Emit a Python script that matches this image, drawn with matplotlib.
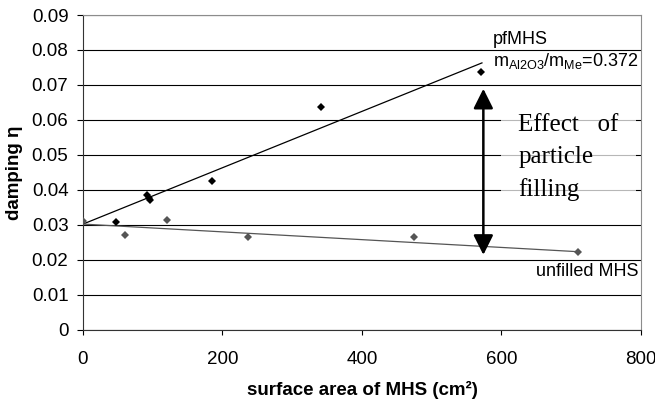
import matplotlib
matplotlib.use("Agg")
import matplotlib.pyplot as plt
from matplotlib.ticker import FuncFormatter, MultipleLocator

plt.rcParams["font.family"] = ["Liberation Sans", "DejaVu Sans"]
plt.rcParams["mathtext.fontset"] = "custom"
plt.rcParams["mathtext.rm"] = "Liberation Sans"

# ── Data ─────────────────────────────────────────────────────────────────────
pf_x = [47, 92, 94, 96, 185, 341, 570]
pf_y = [0.0307, 0.0385, 0.0378, 0.0371, 0.0425, 0.0636, 0.0738]

unfilled_x = [0, 60, 120, 237, 474, 710]
unfilled_y = [0.0311, 0.0272, 0.0314, 0.0266, 0.0266, 0.0222]

# trend lines, end points
pf_trend_x = [0, 572]
pf_trend_y = [0.0302, 0.0763]
un_trend_x = [0, 710]
un_trend_y = [0.0302, 0.0223]

# double arrow "effect of particle filling"
arrow_x = 574
arrow_y = [0.0214, 0.0689]

x_ticks = [0, 200, 400, 600, 800]

# ── Figure ───────────────────────────────────────────────────────────────────
fig = plt.figure(figsize=(6.55, 4.0), dpi=100)
ax = fig.add_axes([0.1267, 0.1758, 0.8519, 0.7867])

ax.set_xlim(0, 800)
ax.set_ylim(0, 0.09)
ax.yaxis.set_major_locator(MultipleLocator(0.01))
ax.set_xticks(x_ticks)
ax.yaxis.set_major_formatter(FuncFormatter(lambda v, _: f"{round(v, 2):g}"))

ax.grid(axis="y", color="black", lw=0.8, zorder=0)
ax.set_axisbelow(True)

for s in ("left", "bottom"):
    ax.spines[s].set_color("#333333")
for s in ("top", "right"):
    ax.spines[s].set_color("#8c8c8c")

ax.tick_params(axis="y", direction="out", length=4.5, width=0.8, pad=6, labelsize=13.5)
ax.tick_params(axis="x", direction="out", length=3.5, width=0.8, pad=12, labelsize=13.5)

# trend lines
ax.plot(pf_trend_x, pf_trend_y, color="black", lw=0.9, zorder=3)
ax.plot(un_trend_x, un_trend_y, color="#555555", lw=0.9, zorder=3)

# measured points
ax.plot(unfilled_x, unfilled_y, "D", color="#555555", ms=4, mew=0, zorder=4)
ax.plot(pf_x, pf_y, "D", color="black", ms=3.6, mew=0, zorder=5)

ax.annotate("", xy=(arrow_x, arrow_y[0]), xytext=(arrow_x, arrow_y[1]),
            arrowprops=dict(arrowstyle="<|-|>,head_length=0.8,head_width=0.4",
                            color="black", lw=1.8, mutation_scale=15,
                            shrinkA=0, shrinkB=0), zorder=6)

ax.text(588, 0.0816, "pfMHS", fontsize=13, va="baseline", ha="left")
ax.text(588, 0.0754, r"m$_{\mathregular{Al2O3}}$/m$_{\mathregular{Me}}$=0.372",
        fontsize=13, va="baseline", ha="left")
ax.text(797, 0.0154, "unfilled MHS", fontsize=13, va="baseline", ha="right")

ax.text(624, 0.0381, "Effect   of\nparticle\nfilling", family="Liberation Serif",
        fontsize=18, va="baseline", ha="left", linespacing=1.58,
        bbox=dict(boxstyle="square,pad=0.7", fc="white", ec="none", alpha=0.72),
        zorder=2)

ax.set_xlabel("surface area of MHS (cm²)", fontsize=13.5, fontweight="bold", labelpad=9)
ax.set_ylabel("damping η", fontsize=13.5, fontweight="bold", labelpad=6)

fig.savefig("out.png", dpi=100)
